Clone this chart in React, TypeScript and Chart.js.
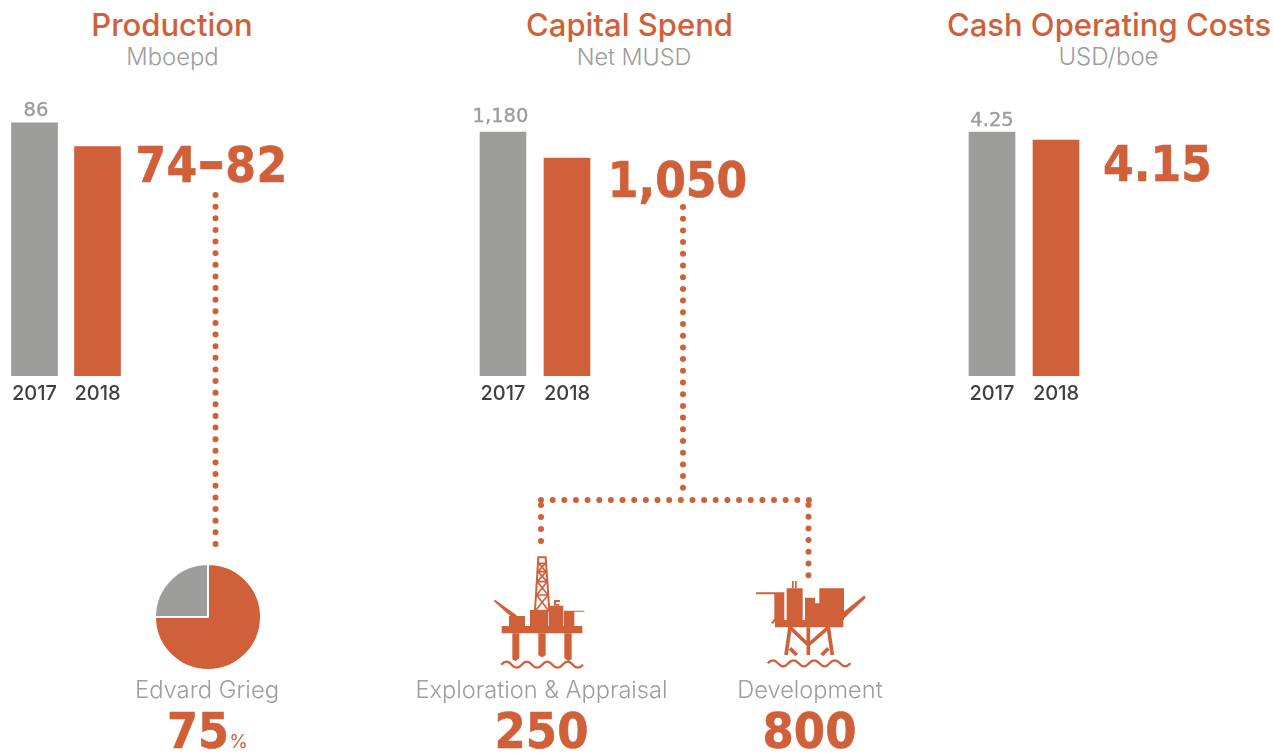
import React, { useEffect, useRef } from "react";
import { Chart, registerables } from "chart.js";

Chart.register(...registerables);

const ORANGE = "#D0603A";
const GRAY = "#9D9D9C";
const FONT = '"DejaVu Sans", sans-serif';
const BIG = '"DejaVu Sans Condensed", "DejaVu Sans", sans-serif';
const HEAD = 'Inter, "DejaVu Sans", sans-serif';

const years = ["2017", "2018"];
const productionValues = [86, 78];
const capitalValues = [1180, 1050];
const cashCostValues = [4.25, 4.15];
const productionLabel = "86";
const capitalLabel = "1,180";
const cashCostLabel = "4.25";
const griegShare = [75, 25];
const griegLabels = ["Edvard Grieg", "Other"];

const valueLabelPlugin = {
  id: "firstBarLabel",
  afterDatasetsDraw(chart: any, _a: any, opts: any) {
    const bar = chart.getDatasetMeta(0).data[0];
    const ctx = chart.ctx;
    ctx.save();
    ctx.font = `19.5px ${FONT}`;
    ctx.fillStyle = GRAY;
    ctx.strokeStyle = GRAY;
    ctx.lineWidth = 0.4;
    ctx.textAlign = "center";
    ctx.textBaseline = "alphabetic";
    ctx.fillText(opts.text, bar.x + opts.dx, bar.y - opts.gap);
    ctx.strokeText(opts.text, bar.x + opts.dx, bar.y - opts.gap);
    ctx.restore();
  },
};

function BarPanel(props: { values: number[]; label: string; center: number; spacing: number; min: number; max: number; gap: number; dx: number }) {
  const ref = useRef<HTMLCanvasElement>(null);
  useEffect(() => {
    const chart = new Chart(ref.current!, {
      type: "bar",
      data: {
        labels: years,
        datasets: [
          {
            data: props.values,
            base: props.min,
            backgroundColor: [GRAY, ORANGE],
            barThickness: 46,
            borderWidth: 0,
          },
        ],
      },
      options: {
        animation: false,
        responsive: false,
        layout: { padding: 0 },
        plugins: {
          legend: { display: false },
          tooltip: { enabled: false },
          firstBarLabel: { text: props.label, gap: props.gap, dx: props.dx },
        } as any,
        scales: {
          x: {
            grid: { display: false },
            border: { display: false },
            afterFit: (s: any) => {
              s.height = 34;
            },
            ticks: { color: "#3F3F3F", font: { family: HEAD, size: 20, weight: "500" }, padding: -2, maxRotation: 0 },
          },
          y: { display: false, min: props.min, max: props.max },
        },
      },
      plugins: [valueLabelPlugin],
    } as any);
    return () => chart.destroy();
  }, []);
  const w = props.spacing * 2;
  return (
    <canvas
      ref={ref}
      width={w}
      height={320}
      style={{ position: "absolute", left: props.center - props.spacing / 2, top: 90, width: w, height: 320 }}
    />
  );
}

function PiePanel() {
  const ref = useRef<HTMLCanvasElement>(null);
  useEffect(() => {
    const chart = new Chart(ref.current!, {
      type: "pie",
      data: {
        labels: griegLabels,
        datasets: [
          {
            data: griegShare,
            backgroundColor: [ORANGE, GRAY],
            borderColor: "#FFFFFF",
            borderWidth: 2,
            radius: 53,
          },
        ],
      },
      options: {
        animation: false,
        responsive: false,
        layout: { padding: 0 },
        plugins: { legend: { display: false }, tooltip: { enabled: false } },
      },
    } as any);
    return () => chart.destroy();
  }, []);
  return (
    <canvas
      ref={ref}
      width={120}
      height={120}
      style={{ position: "absolute", left: 148, top: 557, width: 120, height: 120 }}
    />
  );
}

function T(props: { x: number; y: number; size: number; color: string; family?: string; weight?: number; spacing?: number; heavy?: boolean; children: React.ReactNode }) {
  const lh = Math.round(props.size * 0.8);
  return (
    <div
      style={{
        position: "absolute",
        left: props.x - 200,
        width: 400,
        top: props.y - lh / 2,
        height: lh,
        lineHeight: `${lh}px`,
        textAlign: "center",
        fontFamily: props.family ?? HEAD,
        fontSize: props.size,
        fontWeight: props.weight ?? 400,
        color: props.color,
        letterSpacing: props.spacing ?? 0,
        WebkitTextStroke: props.heavy ? `0.6px ${props.color}` : undefined,
        whiteSpace: "nowrap",
      }}
    >
      {props.children}
    </div>
  );
}

function Wave({ x, y, w, n, a }: { x: number; y: number; w: number; n: number; a: number }) {
  const step = w / n;
  let d = `M${x} ${y} q${step / 4} ${a} ${step / 2} 0`;
  for (let i = 0; i < 2 * n - 1; i++) d += ` t${step / 2} 0`;
  return <path d={d} fill="none" stroke={ORANGE} strokeWidth={7} />;
}

function Icons() {
  return (
    <svg width={1274} height={753} style={{ position: "absolute", left: 0, top: 0 }}>
      <g stroke={ORANGE} strokeWidth={6} strokeLinecap="round" fill="none">
        <path d="M215.5 195 V544" strokeDasharray="0 11.63" />
        <path d="M683 207 V496" strokeDasharray="0 11.7" />
        <path d="M541 500 H809" strokeDasharray="0 11.65" />
        <path d="M541 505 V542" strokeDasharray="0 12" />
        <path d="M808.5 505 V576" strokeDasharray="0 11.7" />
      </g>
      <g transform="translate(480 540) scale(0.33333)" fill={ORANGE}>
        <path d="M175 52 H197 L208 212 H165 Z" fill="none" stroke={ORANGE} strokeWidth={6} />
        <path d="M176 70 H196 M174 95 H198 M172 125 H201 M170 165 H204 M176 70 L198 95 M196 70 L174 95 M174 95 L201 125 M198 95 L172 125 M172 125 L204 165 M201 125 L170 165 M170 165 L206 212 M204 165 L166 212" stroke={ORANGE} strokeWidth={5} fill="none" />
        <path d="M40 182 L46 180 L110 226 L100 236 Z" />
        <path d="M87 228 H135 V258 H87 Z M150 210 H205 V258 H150 Z M207 197 H250 V258 H207 Z M252 212 H313 V215 H283 V258 H252 Z" />
        <path d="M222 180 H240 V186 H228 V192 H238 V197 H222 Z" />
        <path d="M65 258 H307 V280 H65 Z" />
        <path d="M97 280 H118 V354 L107 364 L97 358 Z M175 280 H197 V346 L186 352 L175 346 Z M253 280 H275 V358 L265 364 L253 354 Z" />
        <Wave x={64} y={374} w={245} n={4} a={-18} />
      </g>
      <g transform="translate(745 570) scale(0.33333)" fill={ORANGE}>
        <path d="M33 67 H118 V150 H88 V73 H33 Z" />
        <path d="M125 55 H173 V150 H125 Z M180 83 H210 V100 H223 V55 H297 V150 H180 Z" />
        <path d="M141 33 H146 V55 H141 Z M150 33 H155 V55 H150 Z" />
        <path d="M90 150 H295 V172 H90 Z" />
        <path d="M278 140 L358 76 L362 84 L290 152 Z" />
        <path d="M78 158 L88 146 L92 150 L84 162 Z" />
        <path d="M135 172 L123 255 M250 172 L262 255 M190 172 V255 M135 172 L190 225 M250 172 L190 225 M135 235 L155 255 M250 235 L230 255" stroke={ORANGE} strokeWidth={11} fill="none" />
        <Wave x={68} y={280} w={248} n={4} a={-18} />
      </g>
    </svg>
  );
}

export default function App() {
  return (
    <div style={{ position: "absolute", left: 0, top: 0, width: 1274, height: 753, overflow: "hidden", background: "#fff" }}>
      <Icons />
      <BarPanel values={productionValues} label={productionLabel} center={34} spacing={63} min={0} max={97.2} gap={7} dx={1.5} />
      <BarPanel values={capitalValues} label={capitalLabel} center={503} spacing={64} min={-40} max={1390} gap={10} dx={-2.5} />
      <BarPanel values={cashCostValues} label={cashCostLabel} center={992} spacing={64} min={1.2} max={4.775} gap={6} dx={0} />
      <PiePanel />

      <T x={172} y={24} size={31} weight={500} color={ORANGE}>Production</T>
      <T x={172.5} y={56} size={23.8} weight={300} color={GRAY}>Mboepd</T>
      <T x={629.5} y={24} size={31} weight={500} color={ORANGE}>Capital Spend</T>
      <T x={634} y={56} size={23.4} weight={300} color={GRAY}>Net MUSD</T>
      <T x={1109} y={24} size={31} weight={500} color={ORANGE}>Cash Operating Costs</T>
      <T x={1108.5} y={56} size={24} weight={300} color={GRAY}>USD/boe</T>

      <T x={211.5} y={161} size={49} family={BIG} weight={700} spacing={0.5} heavy color={ORANGE}>74<span style={{ fontSize: 60 }}>–</span>82</T>
      <T x={677.5} y={180} size={49} family={BIG} weight={700} heavy color={ORANGE}>1,050</T>
      <T x={1157.5} y={164} size={49} family={BIG} weight={700} heavy color={ORANGE}>4.15</T>

      <T x={207} y={689} size={23.8} weight={300} color={GRAY}>Edvard Grieg</T>
      <T x={541.5} y={689} size={23.6} weight={300} color={GRAY}>Exploration &amp; Appraisal</T>
      <T x={810} y={689} size={23.6} weight={300} color={GRAY}>Development</T>

      <T x={198} y={731} size={49.5} family={BIG} weight={700} heavy color={ORANGE}>75</T>
      <T x={238.5} y={741} size={19} weight={400} color={ORANGE}>%</T>
      <T x={541.5} y={731} size={50} family={BIG} weight={700} heavy color={ORANGE}>250</T>
      <T x={809.5} y={731} size={50} family={BIG} weight={700} heavy color={ORANGE}>800</T>
    </div>
  );
}
